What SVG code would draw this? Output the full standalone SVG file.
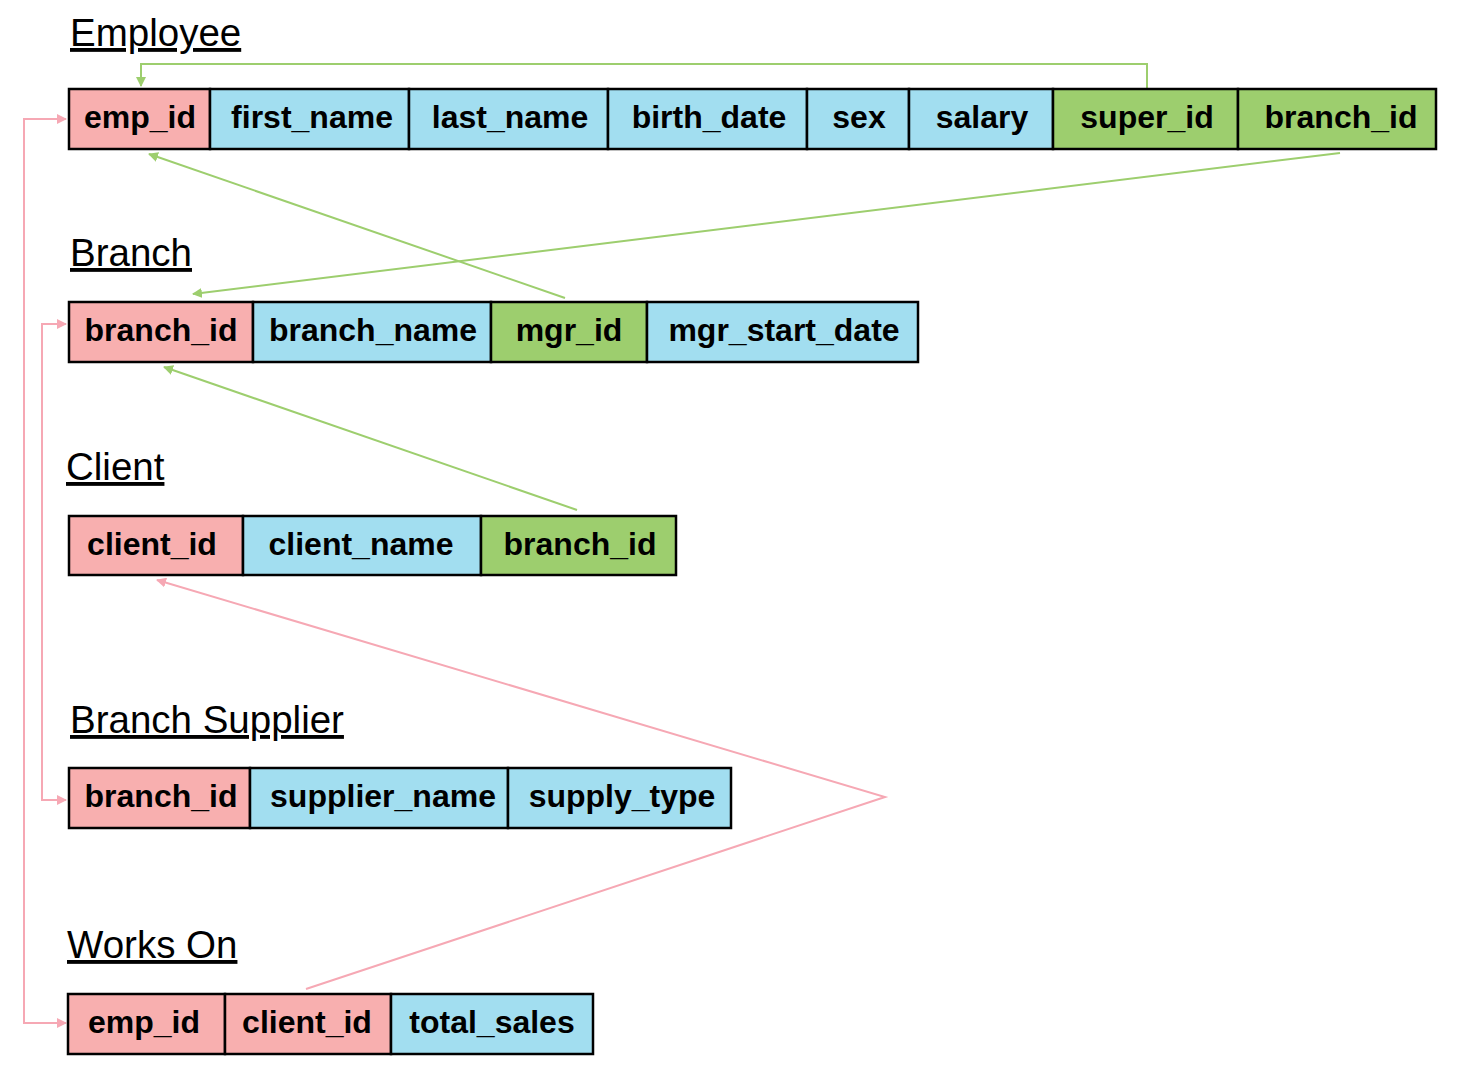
<svg xmlns="http://www.w3.org/2000/svg" width="1467" height="1069" viewBox="0 0 1467 1069">
<defs>
<style>
.t{font-family:"Liberation Sans",Arial,sans-serif;font-size:38.5px;text-decoration:underline;fill:#000}
.c{font-family:"Liberation Sans",Arial,sans-serif;font-size:32px;font-weight:bold;text-anchor:middle;fill:#000}
.pk{fill:#F8AFAF;stroke:#000;stroke-width:2.5}
.bl{fill:#A2DEF0;stroke:#000;stroke-width:2.5}
.gr{fill:#9DCE6E;stroke:#000;stroke-width:2.5}
.lg{fill:none;stroke:#9DCE6E;stroke-width:2}
.lp{fill:none;stroke:#F6A8B4;stroke-width:2}
</style>
<marker id="ag" viewBox="0 0 10 10" refX="9" refY="5" markerWidth="5" markerHeight="5" orient="auto"><path d="M0,0 L10,5 L0,10 z" fill="#9DCE6E"/></marker>
<marker id="ap" viewBox="0 0 10 10" refX="9" refY="5" markerWidth="5" markerHeight="5" orient="auto-start-reverse"><path d="M0,0 L10,5 L0,10 z" fill="#F6A8B4"/></marker>
</defs>
<rect width="1467" height="1069" fill="#fff"/>

<g id="connectors">
<path class="lg" d="M1147,88 V64 H141 V86" marker-end="url(#ag)"/>
<path class="lg" d="M565,298 L149,154" marker-end="url(#ag)"/>
<path class="lg" d="M1340,153 L193,294" marker-end="url(#ag)"/>
<path class="lg" d="M577,510 L164,367" marker-end="url(#ag)"/>
<path class="lp" d="M66,119 H24 V1023 H66" marker-start="url(#ap)" marker-end="url(#ap)"/>
<path class="lp" d="M66,324 H42 V800 H66" marker-start="url(#ap)" marker-end="url(#ap)"/>
<path class="lp" d="M306,989 L885,797 L157,580" marker-end="url(#ap)"/>
</g>

<g id="employee">
<text class="t" x="70" y="46">Employee</text>
<rect class="pk" x="69" y="89" width="141" height="60"/>
<rect class="bl" x="210" y="89" width="199" height="60"/>
<rect class="bl" x="409" y="89" width="199" height="60"/>
<rect class="bl" x="608" y="89" width="199" height="60"/>
<rect class="bl" x="807" y="89" width="102" height="60"/>
<rect class="bl" x="909" y="89" width="144" height="60"/>
<rect class="gr" x="1053" y="89" width="185" height="60"/>
<rect class="gr" x="1238" y="89" width="198" height="60"/>
<text class="c" x="140" y="128">emp_id</text>
<text class="c" x="312" y="128">first_name</text>
<text class="c" x="510" y="128">last_name</text>
<text class="c" x="709" y="128">birth_date</text>
<text class="c" x="859" y="128">sex</text>
<text class="c" x="982" y="128">salary</text>
<text class="c" x="1147" y="128">super_id</text>
<text class="c" x="1341" y="128">branch_id</text>
</g>

<g id="branch">
<text class="t" x="70" y="266">Branch</text>
<rect class="pk" x="69" y="302" width="184" height="60"/>
<rect class="bl" x="253" y="302" width="238" height="60"/>
<rect class="gr" x="491" y="302" width="156" height="60"/>
<rect class="bl" x="647" y="302" width="271" height="60"/>
<text class="c" x="161" y="341">branch_id</text>
<text class="c" x="373" y="341">branch_name</text>
<text class="c" x="569" y="341">mgr_id</text>
<text class="c" x="784" y="341">mgr_start_date</text>
</g>

<g id="client">
<text class="t" x="66" y="480">Client</text>
<rect class="pk" x="69" y="516" width="174" height="59"/>
<rect class="bl" x="243" y="516" width="238" height="59"/>
<rect class="gr" x="481" y="516" width="195" height="59"/>
<text class="c" x="152" y="555">client_id</text>
<text class="c" x="361" y="555">client_name</text>
<text class="c" x="580" y="555">branch_id</text>
</g>

<g id="branch_supplier">
<text class="t" x="70" y="733">Branch Supplier</text>
<rect class="pk" x="69" y="768" width="181" height="60"/>
<rect class="bl" x="250" y="768" width="258" height="60"/>
<rect class="bl" x="508" y="768" width="223" height="60"/>
<text class="c" x="161" y="807">branch_id</text>
<text class="c" x="383" y="807">supplier_name</text>
<text class="c" x="622" y="807">supply_type</text>
</g>

<g id="works_on">
<text class="t" x="67" y="958">Works On</text>
<rect class="pk" x="68" y="994" width="157" height="60"/>
<rect class="pk" x="225" y="994" width="166" height="60"/>
<rect class="bl" x="391" y="994" width="202" height="60"/>
<text class="c" x="144" y="1033">emp_id</text>
<text class="c" x="307" y="1033">client_id</text>
<text class="c" x="492" y="1033">total_sales</text>
</g>
</svg>
